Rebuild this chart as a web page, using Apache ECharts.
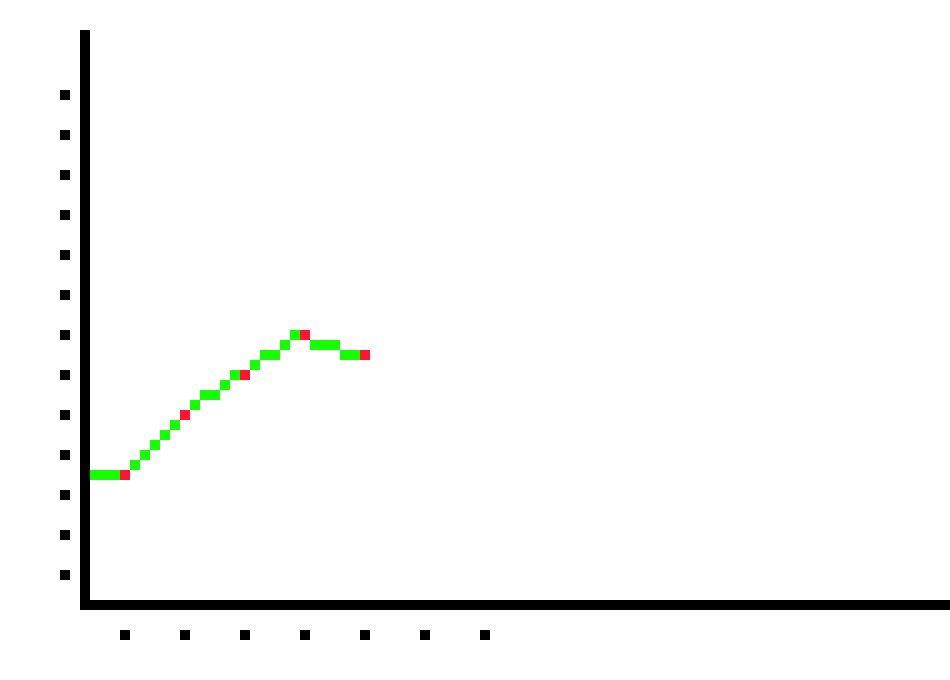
<!DOCTYPE html>
<html>
<head>
<meta charset="utf-8">
<script src="https://cdn.jsdelivr.net/npm/echarts@6/dist/echarts.min.js"></script>
<style>
  html, body { margin: 0; padding: 0; background: #fff; }
  #chart { width: 950px; height: 680px; }
</style>
</head>
<body>
<div id="chart"></div>
<script>
// tick positions shown as plain squares
const xTicks = [1, 2, 3, 4, 5, 6, 7];
const yTicks = [0, 1, 2, 3, 4, 5, 6, 7, 8, 9, 10, 11, 12];
// series: first point sits left of the axis and is clipped
const xValues = [0, 1, 2, 3, 4, 5];
const yValues = [2.5, 2.5, 4, 5, 6, 5.5];

const CELL = 10;
const points = xValues.map((x, i) => [x, yValues[i]]);

const chart = echarts.init(document.getElementById('chart'), null, { renderer: 'canvas' });

const squareLabel = {
    formatter: () => '{sq| }',
    rich: {
        sq: { width: 10, height: 10, lineHeight: 10, fontSize: 1, backgroundColor: '#000', color: 'transparent' }
    }
};

// draws the segment ending at dataIndex as a row of grid cells
function renderSegment(params, api) {
    const i = params.dataIndex;
    if (i === 0) return;
    const a = api.coord(points[i - 1]);
    const b = api.coord(points[i]);
    const x0 = Math.floor(a[0] / CELL), y0 = Math.floor(a[1] / CELL);
    const x1 = Math.floor(b[0] / CELL), y1 = Math.floor(b[1] / CELL);
    const dx = x1 - x0, dy = y1 - y0;
    const children = [];
    const xMajor = Math.abs(dx) >= Math.abs(dy);
    const steps = xMajor ? Math.abs(dx) : Math.abs(dy);
    for (let t = 1; t < steps; t++) {
        let cx, cy;
        if (xMajor) {
            cx = x0 + Math.sign(dx) * t;
            cy = y0 + Math.sign(dy) * Math.ceil(Math.abs(dy) * t / steps - 1e-9);
        } else {
            cy = y0 + Math.sign(dy) * t;
            cx = x0 + Math.sign(dx) * Math.ceil(Math.abs(dx) * t / steps - 1e-9);
        }
        children.push({
            type: 'rect',
            shape: { x: cx * CELL, y: cy * CELL, width: CELL, height: CELL },
            style: { fill: '#14ff00' }
        });
    }
    return { type: 'group', children: children };
}

const option = {
    animation: false,
    backgroundColor: '#fff',
    grid: { left: 85, right: 0, top: 35, bottom: 75 },
    xAxis: {
        type: 'value',
        min: 1 / 3,
        max: 14.75,
        z: 10,
        axisLine: { onZero: false, lineStyle: { color: '#000', width: 10, cap: 'square' } },
        axisTick: { show: false },
        splitLine: { show: false },
        axisLabel: Object.assign({ margin: 25, customValues: xTicks }, squareLabel)
    },
    yAxis: {
        type: 'value',
        min: -0.75,
        max: 13.5,
        z: 10,
        axisLine: { show: true, onZero: false, lineStyle: { color: '#000', width: 10, cap: 'square' } },
        axisTick: { show: false },
        splitLine: { show: false },
        axisLabel: Object.assign({ margin: 15, customValues: yTicks }, squareLabel)
    },
    series: [
        {
            type: 'custom',
            clip: true,
            z: 2,
            renderItem: renderSegment,
            data: points
        },
        {
            type: 'scatter',
            symbol: 'rect',
            symbolSize: 10,
            clip: true,
            z: 3,
            itemStyle: { color: '#ff1530', opacity: 1 },
            data: points
        }
    ]
};
chart.setOption(option);
</script>
</body>
</html>
